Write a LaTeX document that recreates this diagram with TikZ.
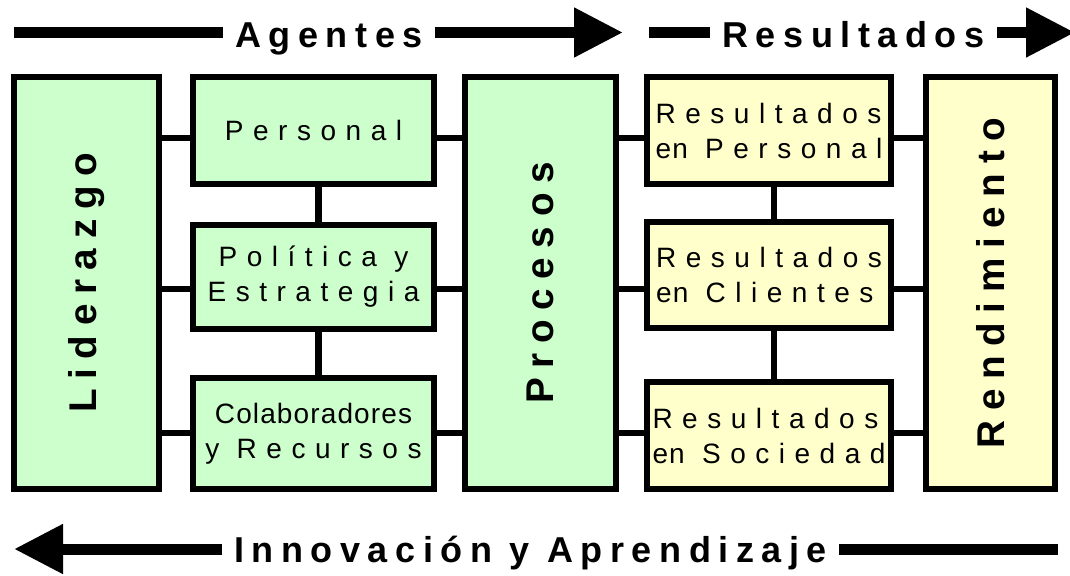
\documentclass[tikz,border=0pt]{standalone}
\usepackage{fontspec}
\usepackage{graphicx}
\setmainfont{Liberation Sans}
\usetikzlibrary{arrows.meta}

\newfontfamily\cajafont[LetterSpace=34]{Liberation Sans}
\newfontfamily\titulofont[LetterSpace=21]{Liberation Sans}
\newfontfamily\verticalfont[LetterSpace=25]{Liberation Sans}
\newcommand{\junto}[1]{{\addfontfeature{LetterSpace=4}#1}}

\definecolor{verde}{RGB}{204,255,204}
\definecolor{amarillo}{RGB}{255,255,204}

\begin{document}
\begin{tikzpicture}[
        x=0.75pt, y=-0.75pt,
        every node/.style={font=\cajafont\fontsize{21}{26.25}\selectfont}, % texto de las cajas
        caja/.style={draw=black, line width=4.5pt, rectangle, inner sep=0pt, align=center},
        agente/.style={caja, fill=verde},
        resultado/.style={caja, fill=amarillo, align=left},
        titulo/.style={font=\titulofont\bfseries\fontsize{27}{32}\selectfont, anchor=base, inner xsep=9pt},
        conector/.style={line width=5pt, draw=black},
        barra/.style={line width=8.25pt, draw=black},
        punta/.style={-{Triangle[length=36.75pt, width=35.25pt]}}
    ]
        \useasboundingbox (0,0) rectangle (1070,575);

        % --- Columnas altas ---
        \node[agente, minimum width=108.75pt, minimum height=309pt] (liderazgo) at (86.5,283)
            {\rotatebox{90}{\verticalfont\bfseries\fontsize{29}{35}\selectfont Liderazgo}};
        \node[agente, minimum width=113.25pt, minimum height=309pt] (procesos) at (540.5,283)
            {\rotatebox{90}{\verticalfont\bfseries\fontsize{29}{35}\selectfont Procesos}};
        \node[resultado, minimum width=96.75pt, minimum height=309pt] (rendimiento) at (990.5,283)
            {\rotatebox{90}{\verticalfont\bfseries\fontsize{29}{35}\selectfont Rendimiento}};

        % --- Agentes (columna verde) ---
        \node[agente, minimum width=180.75pt, minimum height=80.25pt] (personal) at (313.5,130.5) {Personal};
        \node[agente, minimum width=180.75pt, minimum height=78pt] (politica) at (313.5,277) {Política y\\Estrategia};
        \node[agente, minimum width=180.75pt, minimum height=83.25pt] (colaboradores) at (313.5,433.5) {\junto{Colaboradores}\\y Recursos};

        % --- Resultados (columna amarilla) ---
        \node[resultado, minimum width=183pt, minimum height=80.25pt] (res_personal) at (769,130.5) {Resultados\\\junto{en} Personal};
        \node[resultado, minimum width=183pt, minimum height=79.5pt] (res_clientes) at (769,275) {Resultados\\\junto{en} Clientes};
        \node[resultado, minimum width=183pt, minimum height=80.25pt] (res_sociedad) at (769,435.5) {Resultados\\\junto{en} Sociedad};

        % --- Filas y columnas de los conectores ---
        \coordinate (fila1) at (0,138);
        \coordinate (fila2) at (0,289);
        \coordinate (fila3) at (0,433);
        \coordinate (eje_verde) at (318.5,0);
        \coordinate (eje_amarillo) at (774,0);

        % Conectores horizontales
        \draw[conector] (liderazgo.east |- fila1) -- (personal.west |- fila1);
        \draw[conector] (liderazgo.east |- fila2) -- (politica.west |- fila2);
        \draw[conector] (liderazgo.east |- fila3) -- (colaboradores.west |- fila3);
        \draw[conector] (personal.east |- fila1) -- (procesos.west |- fila1);
        \draw[conector] (politica.east |- fila2) -- (procesos.west |- fila2);
        \draw[conector] (colaboradores.east |- fila3) -- (procesos.west |- fila3);
        \draw[conector] (procesos.east |- fila1) -- (res_personal.west |- fila1);
        \draw[conector] (procesos.east |- fila2) -- (res_clientes.west |- fila2);
        \draw[conector] (procesos.east |- fila3) -- (res_sociedad.west |- fila3);
        \draw[conector] (res_personal.east |- fila1) -- (rendimiento.west |- fila1);
        \draw[conector] (res_clientes.east |- fila2) -- (rendimiento.west |- fila2);
        \draw[conector] (res_sociedad.east |- fila3) -- (rendimiento.west |- fila3);

        % Conectores verticales
        \draw[conector] (personal.south -| eje_verde) -- (politica.north -| eje_verde);
        \draw[conector] (politica.south -| eje_verde) -- (colaboradores.north -| eje_verde);
        \draw[conector] (res_personal.south -| eje_amarillo) -- (res_clientes.north -| eje_amarillo);
        \draw[conector] (res_clientes.south -| eje_amarillo) -- (res_sociedad.north -| eje_amarillo);

        % --- Flechas superiores ---
        \coordinate (ag_ini) at (14,32.5);
        \coordinate (ag_fin) at (623,32.5);
        \node[titulo] (agentes) at (329,47) {Agentes};
        \draw[barra] (ag_ini) -- (ag_ini -| agentes.west);
        \draw[barra, punta] (ag_ini -| agentes.east) -- (ag_fin);

        \coordinate (res_ini) at (649,32.5);
        \coordinate (res_fin) at (1075,32.5);
        \node[titulo] (resultados) at (853.5,47) {Resultados};
        \draw[barra] (res_ini) -- (res_ini -| resultados.west);
        \draw[barra, punta] (res_ini -| resultados.east) -- (res_fin);

        % --- Flecha inferior ---
        \coordinate (inn_ini) at (14,549);
        \coordinate (inn_fin) at (1058,549);
        \node[titulo] (innovacion) at (530.5,562) {Innovación y Aprendizaje};
        \draw[barra, punta] (inn_ini -| innovacion.west) -- (inn_ini);
        \draw[barra] (inn_ini -| innovacion.east) -- (inn_fin);
\end{tikzpicture}
\end{document}
